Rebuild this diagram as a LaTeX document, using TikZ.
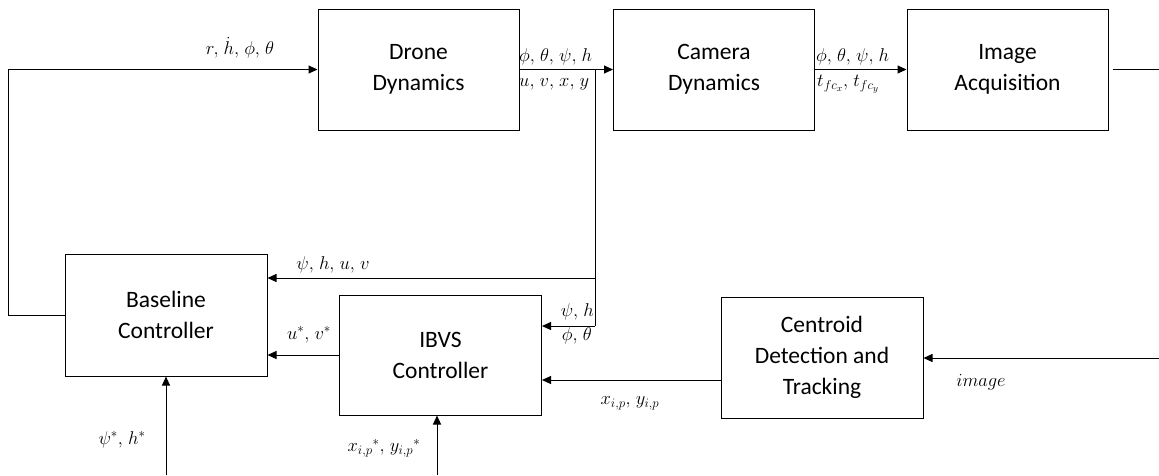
\RequirePackage{fix-cm}
\documentclass[tikz,border=0pt]{standalone}
\usepackage{fontspec}
\setsansfont{Carlito}
\usetikzlibrary{arrows.meta}
\tikzset{
  box/.style={draw, line width=1pt, minimum width=201pt, minimum height=121pt, align=center,
    font=\sffamily\fontsize{23.5}{31}\selectfont, inner sep=0pt},
  arr/.style={line width=1pt, -{Triangle[length=9pt,width=8pt]}},
  ln/.style={line width=1pt},
  lab/.style={font=\fontsize{18.5}{22}\selectfont, inner sep=0pt}
}
\newcommand{\cs}{,\mkern2mu}
\begin{document}
\begin{tikzpicture}[x=1pt,y=-1pt]
\useasboundingbox (0,0) rectangle (1159,475);
% boxes
\node[box] (drone) at (418.5,69.5) {Drone\\Dynamics};
\node[box] (cam) at (714,69.5) {Camera\\Dynamics};
\node[box] (img) at (1007.5,69.5) {Image\\Acquisition};
\node[box, minimum width=202pt, minimum height=122pt] (base) at (166,315) {Baseline\\Controller};
\node[box, minimum width=202pt, minimum height=120pt] (ibvs) at (440.5,355) {IBVS\\Controller};
\node[box, minimum width=202pt] (cent) at (822,357.5) {Centroid\\Detection and\\Tracking};
% coordinates
\coordinate (fb) at (8,315);
\coordinate (br) at (595,69.5);
\coordinate (b1) at (595,278);
\coordinate (b2) at (595,326);
\coordinate (out) at (1159,69.5);
\coordinate (inp) at (1159,358);
\coordinate (x1) at (0,380);
\coordinate (s1) at (166,475);
\coordinate (s2) at (437,475);
% connectors
\draw[arr] (base.west) -- (fb) |- (drone.west);
\draw[arr] (drone.east) -- (cam.west);
\draw[arr] (cam.east) -- (img.west);
\draw[ln] (br) -- (b2);
\draw[arr] (b1) -- (base.east |- b1);
\draw[arr] (b2) -- (ibvs.east |- b2);
\draw[ln] ([xshift=4pt]img.east) -- (out);
\draw[arr] (inp) -- (cent.east |- inp);
\draw[arr] (ibvs.west) -- (base.east |- ibvs.west);
\draw[arr] (cent.west |- x1) -- (ibvs.east |- x1);
\draw[arr] (s1) -- (base.south);
\draw[arr] (s2) -- (s2 |- ibvs.south);
% labels
\node[lab] (l1) at (240,48) {$r\cs\dot{h}\cs\phi\cs\theta$};
\node[lab, anchor=west] (l2) at (519,57) {$\phi\cs\theta\cs\psi\cs h$};
\node[lab, anchor=west] (l3) at (519,84) {$u\cs v\cs x\cs y$};
\node[lab, anchor=west] (l4) at (816,57) {$\phi\cs\theta\cs\psi\cs h$};
\node[lab, anchor=west] (l5) at (817,84) {$t_{fc_x}\cs t_{fc_y}$};
\node[lab] (l6) at (333,265) {$\psi\cs h\cs u\cs v$};
\node[lab] (l7) at (309,335) {$u^{*}\cs v^{*}$};
\node[lab, anchor=east] (l8) at (594,312) {$\psi\cs h$};
\node[lab, anchor=east] (l9) at (592,336) {$\phi\cs\theta$};
\node[lab] (l10) at (630,403) {$x_{i,p}\cs y_{i,p}$};
\node[lab] (l11) at (981,382) {$image$};
\node[lab] (l12) at (122,440) {$\psi^{*}\cs h^{*}$};
\node[lab] (l13) at (384,448) {$x_{i,p}{}^{*}\cs y_{i,p}{}^{*}$};
\end{tikzpicture}
\end{document}
